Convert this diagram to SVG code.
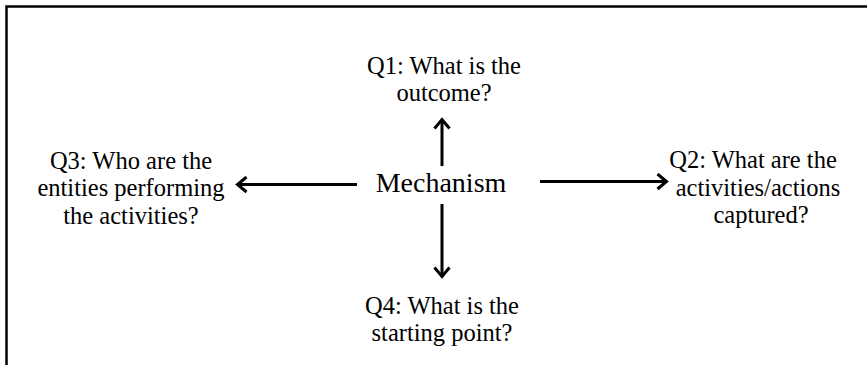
<svg xmlns="http://www.w3.org/2000/svg" width="867" height="365" viewBox="0 0 867 365">
<style>
text{font-family:"Liberation Serif","Times New Roman",serif;fill:#000;text-anchor:middle}
.q{font-size:24.5px}
.m{font-size:28px}
.c{stroke:#000;stroke-width:3;fill:none}
</style>
<defs>
<marker id="ah" viewBox="0 0 14 18" refX="11.5" refY="9" markerWidth="14" markerHeight="18" markerUnits="userSpaceOnUse" orient="auto">
<path d="M2,1.5 L11,9 L2,16.5" fill="none" stroke="#000" stroke-width="3"/>
</marker>
</defs>
<rect width="867" height="365" fill="#fff"/>
<path d="M6.5,365 V6.5 H867" fill="none" stroke="#000" stroke-width="2.5"/>
<g id="connectors">
<line class="c" x1="442" y1="166" x2="442" y2="119" marker-end="url(#ah)"/>
<line class="c" x1="442" y1="204" x2="442" y2="277" marker-end="url(#ah)"/>
<line class="c" x1="357" y1="184.5" x2="237" y2="184.5" marker-end="url(#ah)"/>
<line class="c" x1="540" y1="181.5" x2="667" y2="181.5" marker-end="url(#ah)"/>
</g>
<g id="mechanism"><text class="m" x="441" y="192">Mechanism</text></g>
<g id="q1"><text class="q" x="444" y="73.5">Q1: What is the</text><text class="q" x="444" y="101">outcome?</text></g>
<g id="q4"><text class="q" x="442" y="313.5">Q4: What is the</text><text class="q" x="442" y="341">starting point?</text></g>
<g id="q3"><text class="q" x="131" y="168.5">Q3: Who are the</text><text class="q" x="131" y="196">entities performing</text><text class="q" x="131" y="223.5">the activities?</text></g>
<g id="q2"><text class="q" x="753" y="168">Q2: What are the</text><text class="q" x="758" y="195.5">activities/actions</text><text class="q" x="761" y="223">captured?</text></g>
</svg>
